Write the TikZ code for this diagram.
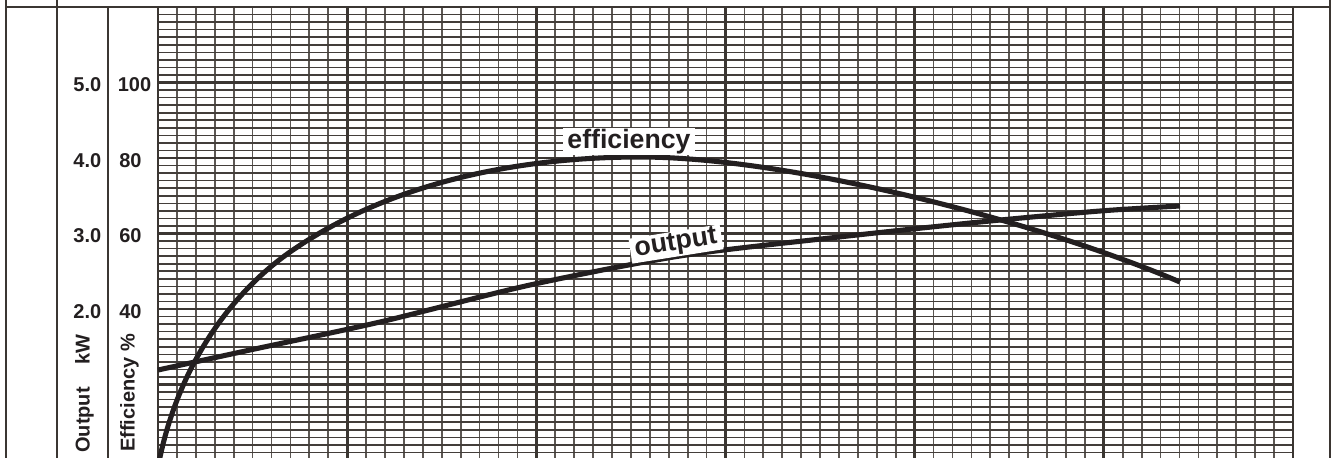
\documentclass[tikz,border=0pt]{standalone}
\usepackage{fontspec}
\setmainfont{Liberation Sans}
\definecolor{ink}{HTML}{231F20}
\definecolor{framec}{HTML}{3B3632}
\definecolor{minorh}{HTML}{433E3A}
\definecolor{minorv}{HTML}{5C5753}
\begin{document}
\begin{tikzpicture}[x=0.75pt,y=-0.75pt,
  minorH/.style={draw=minorh,line width=1.2pt},
  minorV/.style={draw=minorv,line width=1.3pt},
  majorline/.style={draw=framec,line width=2.2pt},
  frameline/.style={draw=framec,line width=1.8pt},
  curve/.style={draw=ink,line width=3.8pt},
  axisnum/.style={font=\fontsize{15}{18}\selectfont\bfseries,text=ink,inner sep=0pt},
  axistitle/.style={font=\fontsize{15}{18}\selectfont\bfseries,text=ink,inner sep=0pt,rotate=90,anchor=base west},
  curvelabel/.style={font=\fontsize{20}{24}\selectfont\bfseries,text=ink,fill=white,inner xsep=3.5pt,inner ysep=0.8pt}]
\useasboundingbox (0,0) rectangle (1338,457);
\fill[white] (0,0) rectangle (1338,457);
% minor grid
\foreach \i in {0,...,60} {\draw[minorV] (158+\i*18.9167,7) -- (158+\i*18.9167,458);}
\foreach \j in {0,...,59} {\draw[minorH] (158,7+\j*7.55) -- (1293,7+\j*7.55);}
% major grid
\foreach \i in {0,10,...,60} {\draw[majorline] (158+\i*18.9167,7) -- (158+\i*18.9167,458);}
\foreach \j in {0,10,...,50} {\draw[majorline] (158,7+\j*7.55) -- (1293,7+\j*7.55);}
% frame
\draw[frameline] (6,7) -- (1330,7);
\draw[frameline] (6,0) -- (6,458);
\draw[frameline] (57,0) -- (57,458);
\draw[frameline] (108,7) -- (108,458);
\draw[frameline] (1330,0) -- (1330,458);
% curves
\begin{scope}
\clip (0,0) rectangle (1338,457);
\draw[curve] (159,462) .. controls (178,367) and (230,294) .. (290,252)
  .. controls (390,182) and (520,157) .. (640,157)
  .. controls (790,157) and (1040,222) .. (1180,282);
\draw[curve] plot[smooth,tension=0.5] coordinates {(158,370) (250,350) (380,322) (530,285) (680,256) (830,238) (980,222) (1100,211) (1180,206)};
\end{scope}
% curve labels
\node[curvelabel] (eff) at (629,141.5) {efficiency};
\node[curvelabel,rotate=9] (out) at (676,244) {output};
% axis numbers
\node[axisnum,anchor=base east] (k5) at (101.5,91.5) {5.0};
\node[axisnum,anchor=base east] (k4) at (101.5,167) {4.0};
\node[axisnum,anchor=base east] (k3) at (101.5,242.5) {3.0};
\node[axisnum,anchor=base east] (k2) at (101.5,318) {2.0};
\node[axisnum,anchor=base west] (e100) at (117.5,91.5) {100};
\node[axisnum,anchor=base west] (e80) at (119,167) {80};
\node[axisnum,anchor=base west] (e60) at (119,242.5) {60};
\node[axisnum,anchor=base west] (e40) at (119,318) {40};
% axis titles
\node[axistitle] (tout) at (89.5,453) {Output\hspace*{17pt}kW};
\node[axistitle] (teff) at (134.5,452) {Efficiency \%};
\end{tikzpicture}
\end{document}
